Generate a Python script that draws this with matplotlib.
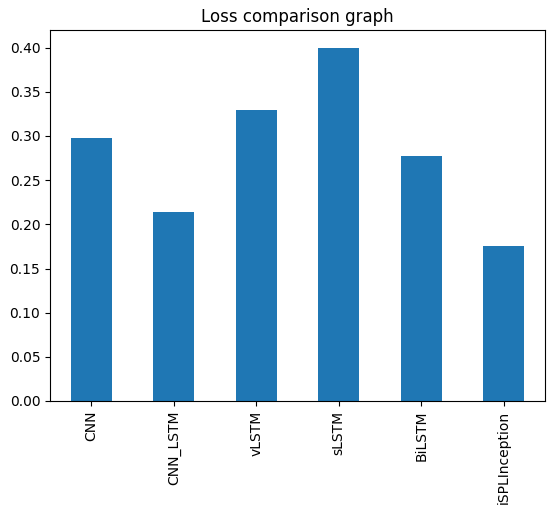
import matplotlib
matplotlib.use("Agg")
import matplotlib.pyplot as plt
import pandas as pd

models = ["CNN", "CNN_LSTM", "vLSTM", "sLSTM", "BiLSTM", "iSPLInception"]
loss = [0.2977, 0.2136, 0.3295, 0.4000, 0.2773, 0.1760]

fig = plt.figure(figsize=(5.56, 5.14), dpi=100)
ax = fig.add_axes([50/556, 1-401/514, 495/556, 371/514])
pd.Series(loss, index=models).plot(kind="bar", ax=ax, color="#1f77b4")
ax.set_title("Loss comparison graph")
fig.savefig("out.png", dpi=100)
